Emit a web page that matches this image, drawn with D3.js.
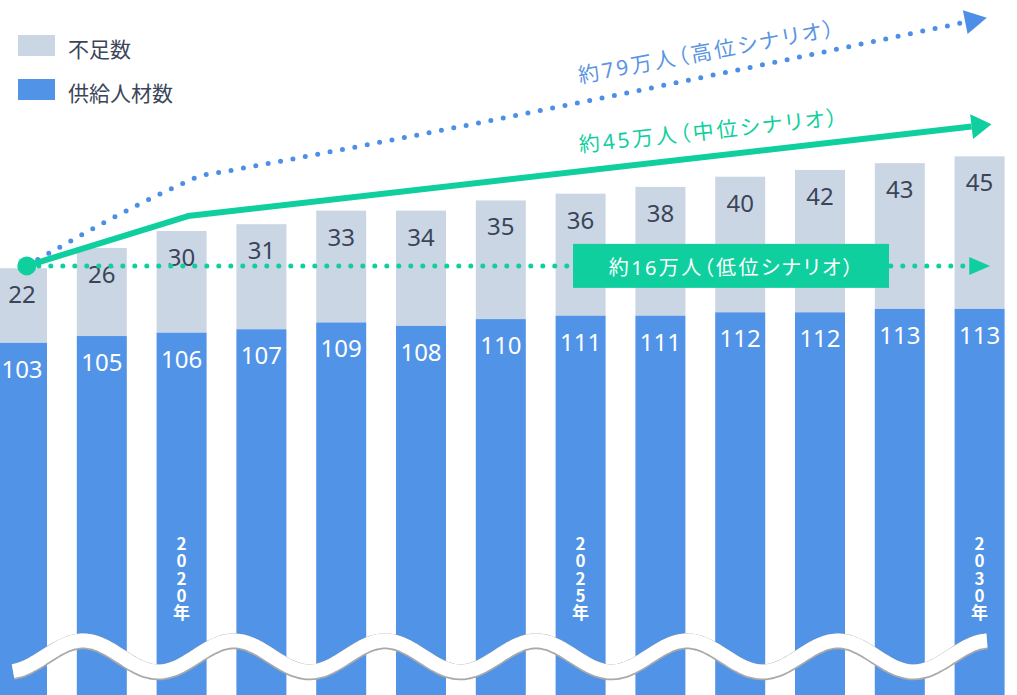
<!DOCTYPE html>
<html>
<head>
<meta charset="utf-8">
<script src="https://cdn.jsdelivr.net/npm/d3@7"></script>
<style>
  body { margin: 0; background: #fff; }
  svg { display: block; }
  text { font-family: "Noto Sans", "Noto Sans CJK JP", sans-serif; }
  .note { font-feature-settings: "palt"; }
  .year { writing-mode: vertical-rl; text-orientation: upright; }
</style>
</head>
<body>
<div class="chart"></div>
<script>
var years = [2018, 2019, 2020, 2021, 2022, 2023, 2024, 2025, 2026, 2027, 2028, 2029, 2030];
var supply = [103, 105, 106, 107, 109, 108, 110, 111, 111, 112, 112, 113, 113];
var shortage = [22, 26, 30, 31, 33, 34, 35, 36, 38, 40, 42, 43, 45];
var markedYears = [2020, 2025, 2030];
var legendItems = ["不足数", "供給人材数"];

// scenario guide lines, [year, value]
var highScenario = [[2018.06, 125.7], [2019.95, 149.3], [2020.23, 152.2], [2020.51, 153.4], [2029.82, 197.6]];
var midScenario = [[2018.06, 125.7], [2020.08, 140.4], [2029.9, 166.8]];
var lowScenario = [[2018.06, 125.7], [2029.87, 125.7]];
var highLabel = "約79万人（高位シナリオ）";
var midLabel = "約45万人（中位シナリオ）";
var lowLabel = "約16万人（低位シナリオ）";

var width = 1017, height = 695;
var grayC = "#cbd6e4", blueC = "#5193e7", greenC = "#10cf9e", lineBlue = "#4d8ee6", textC = "#3b4559";

var svg = d3.select(".chart")
    .append("svg")
    .attr("width", width)
    .attr("height", height);

var x = d3.scaleBand()
    .domain(years)
    .range([-3, 1004.6])
    .paddingInner(0.3734)
    .paddingOuter(0);

var bw = x.bandwidth();

var xc = d3.scaleLinear()
    .domain([years[0], years[years.length - 1]])
    .range([x(years[0]) + bw / 2, x(years[years.length - 1]) + bw / 2]);

var y = d3.scaleLinear()
    .domain([0, 200])
    .range([692, 14]);

var data = years.map(function(yr, i) {
    return { year: yr, supply: supply[i], shortage: shortage[i], total: supply[i] + shortage[i] };
});

var bars = svg.selectAll("g.bar")
    .data(data)
    .enter().append("g")
    .attr("class", "bar");

bars.append("rect")
    .attr("x", function(d) { return x(d.year); })
    .attr("y", function(d) { return y(d.total); })
    .attr("width", bw)
    .attr("height", function(d) { return y(d.supply) - y(d.total); })
    .style("fill", grayC);

bars.append("rect")
    .attr("x", function(d) { return x(d.year); })
    .attr("y", function(d) { return y(d.supply); })
    .attr("width", bw)
    .attr("height", function(d) { return height - y(d.supply); })
    .style("fill", blueC);

bars.append("text")
    .attr("x", function(d) { return x(d.year) + bw / 2; })
    .attr("y", function(d) { return y(d.total) + 35; })
    .style("text-anchor", "middle")
    .style("font-size", "24px")
    .style("fill", textC)
    .text(function(d) { return d.shortage; });

bars.append("text")
    .attr("x", function(d) { return x(d.year) + bw / 2; })
    .attr("y", function(d) { return y(d.supply) + 35; })
    .style("text-anchor", "middle")
    .style("font-size", "24px")
    .style("fill", "#fff")
    .text(function(d) { return d.supply; });

// vertical year labels
svg.selectAll("text.year")
    .data(markedYears)
    .enter().append("text")
    .attr("class", "year")
    .attr("x", function(yr) { return x(yr) + bw / 2; })
    .attr("y", 535)
    .style("font-size", "17px")
    .style("font-weight", "bold")
    .style("letter-spacing", "0.3px")
    .style("font-family", "'Noto Sans CJK JP', sans-serif")
    .style("fill", "#fff")
    .text(function(yr) { return yr + "年"; });

// axis break wave
var wavePts = [];
for (var px = 13; px <= 987; px += 2) {
    wavePts.push([px, 656 - 15.5 * Math.cos(2 * Math.PI * (px - 83) / 151)]);
}
var waveLine = d3.line().curve(d3.curveBasis);
svg.append("path")
    .attr("d", waveLine(wavePts))
    .attr("transform", "translate(0,0.8)")
    .style("fill", "none")
    .style("stroke", "#a9a9a9")
    .style("stroke-width", 16);
svg.append("path")
    .attr("d", waveLine(wavePts))
    .style("fill", "none")
    .style("stroke", "#fff")
    .style("stroke-width", 14);

// scenario lines
function pt(p) { return [xc(p[0]), y(p[1])]; }

function arrowHead(pts, len, half, color) {
    var a = pt(pts[pts.length - 2]), b = pt(pts[pts.length - 1]);
    var ang = Math.atan2(b[1] - a[1], b[0] - a[0]);
    var dx = Math.cos(ang), dy = Math.sin(ang);
    var tip = [b[0] + dx * len, b[1] + dy * len];
    var c1 = [b[0] - dy * half, b[1] + dx * half];
    var c2 = [b[0] + dy * half, b[1] - dx * half];
    svg.append("path")
        .attr("d", "M" + tip + "L" + c1 + "L" + c2 + "Z")
        .style("fill", color);
}

var lineGen = d3.line()
    .x(function(p) { return xc(p[0]); })
    .y(function(p) { return y(p[1]); });

svg.append("path")
    .attr("d", lineGen.curve(d3.curveMonotoneX)(highScenario))
    .style("fill", "none")
    .style("stroke", lineBlue)
    .style("stroke-width", 5)
    .style("stroke-linecap", "round")
    .style("stroke-dasharray", "0,12.6");
arrowHead(highScenario, 22, 12, lineBlue);

svg.append("path")
    .attr("d", lineGen.curve(d3.curveLinear)(lowScenario))
    .style("fill", "none")
    .style("stroke", greenC)
    .style("stroke-width", 5)
    .style("stroke-linecap", "round")
    .style("stroke-dasharray", "0,12");
arrowHead(lowScenario, 21, 9, greenC);

svg.append("path")
    .attr("d", lineGen.curve(d3.curveLinear)(midScenario))
    .style("fill", "none")
    .style("stroke", greenC)
    .style("stroke-width", 6)
    .style("stroke-linejoin", "round");
arrowHead(midScenario, 20, 12.5, greenC);

svg.append("circle")
    .attr("cx", xc(midScenario[0][0]))
    .attr("cy", y(midScenario[0][1]))
    .attr("r", 9.5)
    .style("fill", greenC);

// low scenario box
var boxX = xc(2026.885), boxY = y(125.7);
svg.append("rect")
    .attr("x", boxX - 158)
    .attr("y", boxY - 22)
    .attr("width", 316)
    .attr("height", 44)
    .style("fill", greenC);
svg.append("text")
    .attr("class", "note")
    .attr("x", boxX + 1)
    .attr("y", boxY + 9)
    .style("text-anchor", "middle")
    .style("font-size", "20px")
    .style("letter-spacing", "2.4px")
    .style("fill", "#fff")
    .text(lowLabel);

svg.append("text")
    .attr("class", "note")
    .attr("transform", "translate(" + xc(2024.99) + "," + y(179.6) + ") rotate(-10.5)")
    .style("font-size", "21px")
    .style("letter-spacing", "2.8px")
    .style("fill", "#5a95e2")
    .text(highLabel);

svg.append("text")
    .attr("class", "note")
    .attr("transform", "translate(" + xc(2024.99) + "," + y(159.2) + ") rotate(-6)")
    .style("font-size", "21px")
    .style("letter-spacing", "2.8px")
    .style("fill", greenC)
    .text(midLabel);

// legend
var legend = svg.selectAll(".legend")
    .data(legendItems)
    .enter().append("g")
    .attr("class", "legend")
    .attr("transform", function(d, i) { return "translate(18," + (35 + i * 44) + ")"; });

legend.append("rect")
    .attr("width", 37)
    .attr("height", 21)
    .style("fill", function(d, i) { return i === 0 ? grayC : blueC; });

legend.append("text")
    .attr("x", 50)
    .attr("y", 22)
    .style("font-size", "21px")
    .style("fill", textC)
    .text(function(d) { return d; });
</script>
</body>
</html>
